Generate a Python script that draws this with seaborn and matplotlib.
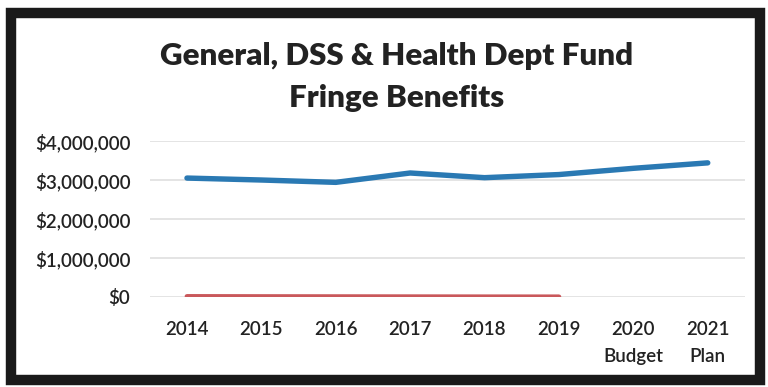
import matplotlib
matplotlib.use("Agg")
import matplotlib.pyplot as plt
from matplotlib.patches import Rectangle
from matplotlib.ticker import FuncFormatter
import numpy as np
import pandas as pd
import seaborn as sns

# Fiscal years shown on the category axis
years = ["2014", "2015", "2016", "2017", "2018", "2019", "2020\nBudget", "2021\nPlan"]

# Fringe benefit totals (dollars)
fringe_total = [3050000, 3000000, 2940000, 3180000, 3060000, 3140000, 3300000, 3440000]

# Second series, actual years only
other_total = [15000, 12000, 10000, 8000, 6000, 5000]

y_ticks = [0, 1000000, 2000000, 3000000, 4000000]

sns.set_theme(style="white")
plt.rcParams["font.family"] = ["Lato", "DejaVu Sans"]

fig = plt.figure(figsize=(7.68, 3.87), dpi=100)
fig.patch.set_facecolor("white")
ax = fig.add_axes([0.195, 0.2326, 0.775, 0.403])

pos = np.arange(len(years))
df_a = pd.DataFrame({"x": pos, "y": fringe_total})
df_b = pd.DataFrame({"x": pos[:len(other_total)], "y": other_total})

sns.lineplot(data=df_b, x="x", y="y", ax=ax, color="#c9585b", linewidth=3.4,
             solid_capstyle="round")
sns.lineplot(data=df_a, x="x", y="y", ax=ax, color="#2a79b3", linewidth=3.9,
             solid_capstyle="round")

ax.set_xlim(-0.5, len(years) - 0.5)
ax.set_ylim(0, 4000000)
ax.set_yticks(y_ticks)
ax.yaxis.set_major_formatter(FuncFormatter(lambda v, p: f"${v:,.0f}"))
ax.set_xticks(pos)
ax.set_xticklabels(years)
ax.grid(axis="y", color="#dcdcdc", linewidth=1.1)
ax.set_axisbelow(True)
for s in ax.spines.values():
    s.set_visible(False)
ax.set_xlabel("")
ax.set_ylabel("")
ax.tick_params(axis="both", length=0, labelsize=13.5, colors="#222222")
ax.tick_params(axis="x", pad=17)
ax.tick_params(axis="y", pad=14)
for lbl in ax.get_xticklabels() + ax.get_yticklabels():
    lbl.set_fontweight("semibold")
for lbl in ax.get_xticklabels():
    lbl.set_linespacing(1.75)

fig.text(0.517, 0.855, "General, DSS & Health Dept Fund", ha="center", va="center",
         fontsize=22.5, fontweight="heavy", color="#222222")
fig.text(0.517, 0.748, "Fringe Benefits", ha="center", va="center",
         fontsize=22.5, fontweight="heavy", color="#222222")

# Heavy black frame around the chart
fig.patches.append(Rectangle((0.014, 0.018), 0.975, 0.948, transform=fig.transFigure,
                             fill=False, edgecolor="#1a1a1a", linewidth=7.5))

fig.savefig("out.png", dpi=100, facecolor="white")
